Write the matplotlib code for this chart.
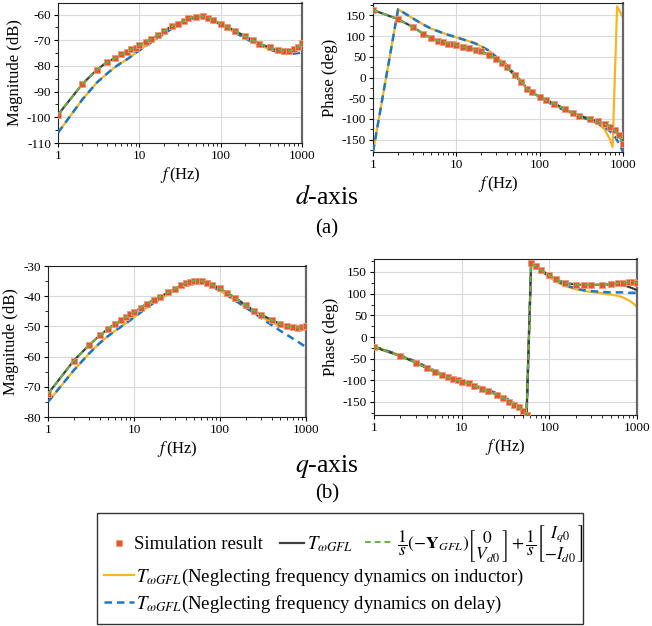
import matplotlib
matplotlib.use("Agg")
import matplotlib.pyplot as plt
from matplotlib.lines import Line2D
from matplotlib.patches import Rectangle
from matplotlib.ticker import FixedLocator, NullFormatter, MultipleLocator, LogLocator

plt.rcParams['font.family'] = ['Liberation Serif', 'DejaVu Serif']
plt.rcParams['mathtext.fontset'] = 'stix'
plt.rcParams['axes.unicode_minus'] = False

# ---- data ----
fd = [1, 2, 3, 4, 5, 6, 7, 8, 9, 10, 12, 14, 17, 20, 25, 30, 35, 40, 50, 60, 70, 80,
      100, 120, 150, 200, 250, 300, 400, 500, 600, 700, 800, 900, 1000]

# d-axis magnitude
d_mag_T = [-99, -87, -81.5, -78.5, -77, -75.5, -74.5, -73.5, -73, -72, -70.5, -69.5, -68,
           -66.5, -64.5, -63.5, -62.5, -61.5, -60.8, -60.7, -61.2, -62, -63.5, -64.8, -66.3,
           -68.5, -70, -71.3, -72.8, -73.8, -74.2, -74.2, -73.6, -72.6, -71.5]
d_mag_sim = [-99, -87, -81.5, -78.5, -77, -75.5, -74.5, -73.5, -73, -72, -70.5, -69.5, -68,
             -66.5, -64.5, -63.5, -62.5, -61.5, -60.8, -60.7, -61.2, -62, -63.5, -64.8, -66.3,
             -68.5, -70, -71.3, -72.8, -73.8, -74.2, -74.2, -73.5, -72.5, -71.2]
d_mag_delay = [-106, -93, -86.5, -83, -80.5, -78.8, -77.5, -76.2, -75, -74, -72.2, -70.8, -69,
               -67.5, -65.5, -64, -63, -62, -61.2, -61, -61.5, -62.2, -64, -65.3, -67, -69.2,
               -70.8, -72, -73.6, -74.6, -75.1, -75.3, -75.2, -75, -74.7]
d_mag_ind = [-106, -93, -86.5, -83, -80.5, -78.8, -77.5, -76.2, -75, -74, -72.2, -70.8, -69,
             -67.5, -65.5, -64, -63, -62, -61.2, -61, -61.5, -62.2, -64, -65.3, -67, -69.2,
             -70.8, -72, -73.5, -74.4, -74.8, -74.8, -74.2, -73.5, -72.8]

# d-axis phase
d_ph_T = [163, 141, 122, 106, 95, 89, 85, 82, 80, 78, 74, 71, 67, 63, 54, 45, 36, 26, 5, -10,
          -27, -35, -47, -55, -63, -76, -86, -92, -100, -106, -112, -119, -128, -140, -160]
d_ph_sim = [163, 141, 122, 106, 95, 89, 85, 82, 80, 78, 74, 71, 67, 63, 54, 45, 36, 26, 5, -10,
            -27, -35, -47, -55, -63, -76, -86, -92, -100, -106, -112, -119, -128, -140, -160]
d_ph_delay = [-180, 165, 143, 128, 118, 112, 107, 103, 100, 97, 92, 88, 82, 75, 64, 50, 40, 30,
              8, -8, -25, -33, -48, -58, -67, -80, -88, -94, -103, -111, -120, -130, -143, -160, -180]
fd_ind = [1, 2, 3, 4, 5, 6, 7, 8, 9, 10, 12, 14, 17, 20, 25, 30, 35, 40, 50, 60, 70, 80,
          100, 120, 150, 200, 250, 300, 400, 500, 600, 700, 750, 850, 1000]
d_ph_ind = [-180, 165, 143, 128, 118, 112, 107, 103, 100, 97, 92, 88, 82, 75, 64, 50, 40, 30,
            8, -8, -25, -33, -48, -58, -67, -80, -88, -94, -103, -112, -125, -150, -168, 172, 145]

fq = [1, 2, 3, 4, 5, 6, 7, 8, 9, 10, 12, 14, 17, 20, 25, 30, 35, 40, 45, 50, 55, 62, 70, 80,
      100, 120, 150, 200, 250, 300, 400, 500, 600, 700, 800, 900, 1000]

# q-axis magnitude
q_mag_T = [-72.3, -61.3, -56.2, -53, -50.8, -49.2, -48, -46.9, -46, -45.3, -43.8, -42.5, -41.2,
           -40.2, -38.7, -37.5, -36.4, -35.6, -35.2, -34.9, -34.9, -35, -35.5, -36.2, -37.4,
           -38.8, -40.5, -43, -44.8, -46.1, -47.9, -49.2, -49.9, -50.3, -50.4, -50.3, -50]
q_mag_sim = [-72.3, -61.3, -56.2, -53, -50.8, -49.2, -48, -46.9, -46, -45.3, -43.8, -42.5, -41.2,
             -40.2, -38.7, -37.5, -36.4, -35.6, -35.2, -34.9, -34.9, -35, -35.5, -36.2, -37.4,
             -38.8, -40.5, -43, -44.8, -46.1, -47.9, -49.2, -49.9, -50.3, -50.4, -50.3, -49.9]
q_mag_delay = [-75, -64.5, -59, -55.5, -53.2, -51.5, -50.2, -49, -48, -47, -45.3, -43.8, -42.2,
               -41, -39.3, -38, -36.9, -36, -35.6, -35.3, -35.2, -35.4, -36, -36.7, -38.2,
               -39.6, -41.4, -43.8, -45.6, -47.2, -49.6, -51.4, -52.8, -54, -55, -56, -56.8]
q_mag_ind = [-75, -64.5, -59, -55.5, -53.2, -51.5, -50.2, -49, -48, -47, -45.3, -43.8, -42.2,
             -41, -39.3, -38, -36.9, -36, -35.6, -35.3, -35.2, -35.4, -36, -36.7, -38.2,
             -39.6, -41.4, -43.8, -45.5, -46.8, -48.7, -49.9, -50.6, -51, -51.1, -51, -50.8]

# q-axis phase
q_ph_T = [-23, -44, -59, -72, -81, -88, -93, -97, -100, -103, -107, -113, -120, -125, -133,
          -141, -149, -156, -162, -170, -180, 170, 163, 155, 142, 133, 125, 121, 120, 120,
          121, 121, 120, 119, 116, 112, 108]
q_ph_sim = [-23, -44, -59, -72, -81, -88, -93, -97, -100, -103, -107, -113, -120, -125, -133,
            -141, -149, -156, -162, -170, -180, 170, 163, 155, 142, 133, 125, 121, 120, 120,
            121, 122, 124, 125, 126, 126, 124]
q_ph_delay = [-22, -42, -57, -69, -78, -85, -90, -94, -97, -100, -105, -110, -117, -122, -130,
              -138, -146, -153, -160, -168, -180, 170, 162, 153, 140, 130, 120, 112, 108, 106,
              104, 103, 103, 103, 102, 102, 102]
q_ph_ind = [-22, -42, -57, -69, -78, -85, -90, -94, -97, -100, -105, -110, -117, -122, -130,
            -138, -146, -153, -160, -168, -180, 170, 162, 153, 138, 127, 118, 110, 106, 104,
            101, 98, 95, 91, 85, 78, 70]

c_sim = '#e4572e'
c_sim_edge = '#f09a7c'
c_T = '#3f3f3f'
c_green = '#70ad47'
c_ind = '#f6b623'
c_delay = '#1f77c4'


def draw(ax, f, T, sim, delay, ind, f_ind=None):
    if f_ind is None:
        f_ind = f
    ax.plot(f_ind, ind, color=c_ind, lw=1.6, zorder=2)
    ax.plot(f, delay, color=c_delay, lw=1.8, ls=(0, (3, 2)), zorder=3)
    ax.plot(f, T, color=c_T, lw=1.6, zorder=4)
    ax.plot(f, sim, 's', color=c_sim, ms=4.4, mec=c_sim_edge, mew=0.6, zorder=5)
    ax.plot(f, sim, color=c_green, lw=1.4, ls=(0, (3, 2)), zorder=6)


def style(ax, ylab, ylim, major, minor):
    ax.set_xscale('log')
    ax.set_xlim(1, 1000)
    ax.set_ylim(*ylim)
    ax.xaxis.set_major_locator(FixedLocator([1, 10, 100, 1000]))
    ax.set_xticklabels(['1', '10', '100', '1000'])
    ax.xaxis.set_minor_locator(LogLocator(base=10, subs=range(2, 10)))
    ax.xaxis.set_minor_formatter(NullFormatter())
    ax.yaxis.set_major_locator(MultipleLocator(major))
    ax.yaxis.set_minor_locator(MultipleLocator(minor))
    ax.grid(True, which='major', color='#d9d9d9', lw=0.8)
    ax.set_axisbelow(True)
    ax.tick_params(which='both', direction='out', labelsize=9.5, length=3, pad=2)
    ax.tick_params(which='minor', length=2)
    for s in ax.spines.values():
        s.set_linewidth(0.8)
        s.set_color('#222222')
    ax.spines['right'].set_linewidth(1.6)
    ax.spines['right'].set_color('#666666')
    ax.set_ylabel(ylab, fontsize=12, labelpad=3)
    ax.set_xlabel(r'$f\,$(Hz)', fontsize=12, labelpad=2)


fig = plt.figure(figsize=(6.52, 6.26), dpi=100)
W, H = 652.0, 626.0


def add_ax(l, t, r, b):
    return fig.add_axes([l / W, 1 - b / H, (r - l) / W, (b - t) / H])


ax1 = add_ax(58, 3, 302, 143)
ax2 = add_ax(373, 3, 623, 152)
ax3 = add_ax(48, 266, 306, 417)
ax4 = add_ax(374, 259, 637, 415)

draw(ax1, fd, d_mag_T, d_mag_sim, d_mag_delay, d_mag_ind)
style(ax1, 'Magnitude (dB)', (-110, -55.5), 10, 5)
draw(ax2, fd, d_ph_T, d_ph_sim, d_ph_delay, d_ph_ind, fd_ind)
style(ax2, 'Phase (deg)', (-180, 180), 50, 25)
draw(ax3, fq, q_mag_T, q_mag_sim, q_mag_delay, q_mag_ind)
style(ax3, 'Magnitude (dB)', (-80, -30), 10, 5)
draw(ax4, fq, q_ph_T, q_ph_sim, q_ph_delay, q_ph_ind)
style(ax4, 'Phase (deg)', (-180, 180), 50, 25)

fig.text(327 / W, 1 - 197 / H, r'$d$-axis', ha='center', va='center', fontsize=18.5)
fig.text(327 / W, 1 - 229 / H, '(a)', ha='center', va='center', fontsize=15)
fig.text(327 / W, 1 - 467 / H, r'$q$-axis', ha='center', va='center', fontsize=18.5)
fig.text(327 / W, 1 - 494 / H, '(b)', ha='center', va='center', fontsize=15)

# legend box
fig.patches.append(Rectangle((97 / W, 1 - 624 / H), (583 - 97) / W, (624 - 513) / H,
                             transform=fig.transFigure, fill=False, ec='#333333', lw=1.0))

h_sim = Line2D([], [], marker='s', ls='none', color=c_sim, ms=4.4, mec=c_sim_edge, mew=0.6)
h_T = Line2D([], [], color=c_T, lw=1.6)
h_green = Line2D([], [], color=c_green, lw=1.4, ls=(0, (3, 2)))
h_ind = Line2D([], [], color=c_ind, lw=1.6)
h_delay = Line2D([], [], color=c_delay, lw=1.8, ls=(0, (3, 2)))

formula = (r'$\dfrac{1}{s}(-\mathbf{Y}_{GFL})\genfrac{[}{]}{0}{0}{0}{V_{d0}}'
           r'+\dfrac{1}{s}\genfrac{[}{]}{0}{0}{I_{q0}}{-I_{d0}}$')
T_lab = r'$T_{\omega GFL}$'

fig.legend([h_sim, h_T], ['Simulation result', T_lab],
           loc='center left', bbox_to_anchor=(107 / W, 1 - 544 / H), ncol=2,
           frameon=False, fontsize=13.5, handlelength=1.3, handletextpad=0.15,
           columnspacing=0.9, borderaxespad=0, borderpad=0)
fig.legend([h_green], [formula],
           loc='center left', bbox_to_anchor=(365 / W, 1 - 543 / H),
           frameon=False, fontsize=12.5, handlelength=1.6, handletextpad=0.25,
           borderaxespad=0, borderpad=0)
fig.legend([h_ind], [T_lab + '(Neglecting frequency dynamics on inductor)'],
           loc='center left', bbox_to_anchor=(104 / W, 1 - 577 / H),
           frameon=False, fontsize=13.5, handlelength=1.6, handletextpad=0.1,
           borderaxespad=0, borderpad=0)
fig.legend([h_delay], [T_lab + '(Neglecting frequency dynamics on delay)'],
           loc='center left', bbox_to_anchor=(104 / W, 1 - 604 / H),
           frameon=False, fontsize=13.5, handlelength=1.6, handletextpad=0.1,
           borderaxespad=0, borderpad=0)

fig.savefig('out.png', dpi=100)
